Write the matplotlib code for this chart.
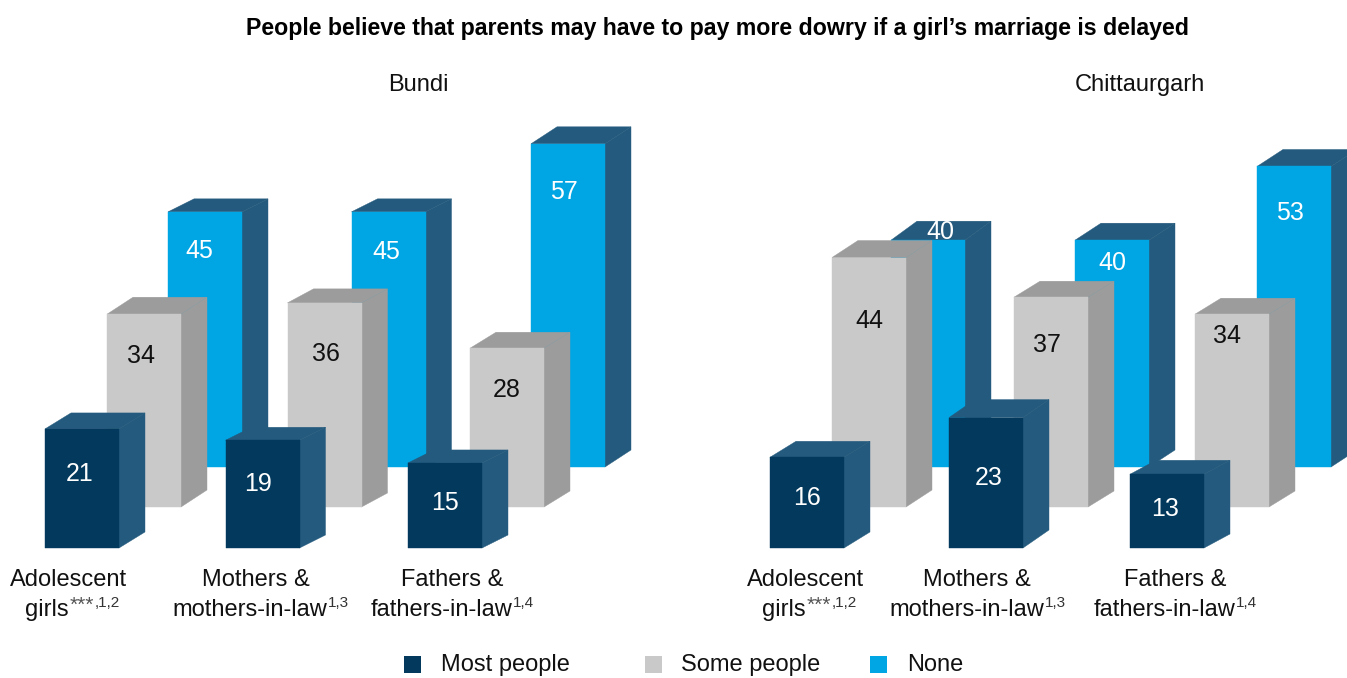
import matplotlib
matplotlib.use("Agg")
import matplotlib.pyplot as plt
from matplotlib.patches import Polygon, Rectangle

plt.rcParams["font.family"] = ["Liberation Sans", "DejaVu Sans"]

W, H = 1347, 678

# -----------------------------
# Data
# -----------------------------
groups = ["Adolescent girls", "Mothers & mothers-in-law", "Fathers & fathers-in-law"]
bundi_most = [21, 19, 15]
bundi_some = [34, 36, 28]
bundi_none = [45, 45, 57]
chitt_most = [16, 23, 13]
chitt_some = [44, 37, 34]
chitt_none = [40, 40, 53]

# -----------------------------
# Layout (pixels)
# -----------------------------
PX_PER_UNIT = 5.67
BAR_W = 74
DEPTH_X = 26
ROW_SHIFT = {"most": (0, 548), "some": (62, 507), "none": (123, 467)}

# x/y offset of each value label from the top-left corner of its bar slot
bundi_label_pos = {
    "most": [(35, 44), (32, 43), (37, 39)],
    "some": [(34, 41), (37, 50), (37, 41)],
    "none": [(31, 38), (37, 39), (33, 47)],
}
chitt_label_pos = {
    "most": [(38, 40), (39, 59), (34, 34)],
    "some": [(38, 62), (35, 47), (34, 21)],
    "none": [(48, -9), (39, 22), (36, 46)],
}

# the boxes were not placed quite evenly by hand: small shifts and depths per bar
bundi_nudge = {"most": [0, -1, 0], "some": [0, -1, 0], "none": [0, 2, 0]}
chitt_nudge = {"most": [1, -1, -1], "some": [1, 2, 2], "none": [-1, 2, 3]}
bundi_depth = {"most": [16, 13, 13], "some": [17, 14, 16], "none": [13, 13, 17]}
chitt_depth = {"most": [16, 18, 14], "some": [17, 16, 16], "none": [19, 17, 17]}

NAVY, NAVY_SIDE = "#03395C", "#245A7D"
GREY, GREY_SIDE = "#C9C9C9", "#9C9C9C"
BLUE = "#00A5E3"
STYLE = {
    "most": (NAVY, NAVY_SIDE, "white"),
    "some": (GREY, GREY_SIDE, "#111111"),
    "none": (BLUE, NAVY_SIDE, "white"),
}
TEXT = "#111111"

fig = plt.figure(figsize=(W / 100, H / 100), dpi=100, facecolor="white")


def put_text(x, y, s, **kw):
    kw.setdefault("color", TEXT)
    kw.setdefault("va", "center")
    return fig.text(x / W, 1 - y / H, s, **kw)


def draw_panel(px_left, px_right, x0, spacing, series, label_pos, nudge, depth):
    # one axes per district: x in group units, y in percent above the front row
    ax = fig.add_axes([px_left / W, 0, (px_right - px_left) / W, 1])
    ax.set_xlim((px_left - x0) / spacing, (px_right - x0) / spacing)
    ax.set_ylim((548 - H) / PX_PER_UNIT, 548 / PX_PER_UNIT)
    ax.axis("off")

    w = BAR_W / spacing
    dx = DEPTH_X / spacing
    layer = 2
    for key in ["none", "some", "most"]:
        shift_x, base_px = ROW_SHIFT[key]
        front, side, txt = STYLE[key]
        base = (548 - base_px) / PX_PER_UNIT
        for i, val in enumerate(series[key]):
            slot = i + shift_x / spacing
            x = slot + nudge[key][i] / spacing
            dy = depth[key][i] / PX_PER_UNIT
            top = base + val
            ax.add_patch(Polygon([(x + w, base), (x + w + dx, base + dy),
                                  (x + w + dx, top + dy), (x + w, top)],
                                 fc=side, ec=side, lw=0.3, zorder=layer))
            ax.add_patch(Polygon([(x, top), (x + dx, top + dy),
                                  (x + w + dx, top + dy), (x + w, top)],
                                 fc=side, ec=side, lw=0.3, zorder=layer))
            ax.add_patch(Rectangle((x, base), w, val, fc=front, ec=front, lw=0.3,
                                   zorder=layer))
            off_x, off_y = label_pos[key][i]
            ax.annotate(str(val), xy=(slot, top), xytext=(off_x, -off_y - 1),
                        textcoords="offset pixels", ha="center", va="center",
                        color=txt, fontsize=18, zorder=10)
        layer += 1


draw_panel(0, 673, 45, 181.5,
           {"most": bundi_most, "some": bundi_some, "none": bundi_none},
           bundi_label_pos, bundi_nudge, bundi_depth)
draw_panel(673, W, 769, 181,
           {"most": chitt_most, "some": chitt_some, "none": chitt_none},
           chitt_label_pos, chitt_nudge, chitt_depth)

# -----------------------------
# Titles
# -----------------------------
put_text(717, 29, "People believe that parents may have to pay more dowry if a girl\u2019s marriage is delayed",
         ha="center", fontsize=16.7, fontweight="bold", color="black")
put_text(418, 85, "Bundi", ha="center", fontsize=17)
put_text(1140, 85, "Chittaurgarh", ha="center", fontsize=17)


# -----------------------------
# Category labels with superscript notes
# -----------------------------
def sup_label(cx, y, s, stars, note):
    renderer = fig.canvas.get_renderer()
    main = put_text(0, y, s, ha="left", fontsize=17)
    w1 = main.get_window_extent(renderer).width
    star = None
    w_star = 0
    if stars:
        star = put_text(0, y - 5, stars, ha="left", fontsize=15, color="#555555")
        w_star = star.get_window_extent(renderer).width
    sup = put_text(0, y - 7, note, ha="left", fontsize=11, color="#333333")
    w2 = sup.get_window_extent(renderer).width
    left = cx - (w1 + w_star + w2) / 2
    main.set_x(left / W)
    if star is not None:
        star.set_x((left + w1 + 1) / W)
    sup.set_x((left + w1 + w_star + 1) / W)


for cx1, cx2, first, second, stars, note in [
    (69, 72, "Adolescent", "girls", "***", ",1,2"),
    (256, 260, "Mothers &", "mothers-in-law", "", "1,3"),
    (452, 452, "Fathers &", "fathers-in-law", "", "1,4"),
    (806, 809, "Adolescent", "girls", "***", ",1,2"),
    (977, 977, "Mothers &", "mothers-in-law", "", "1,3"),
    (1175, 1175, "Fathers &", "fathers-in-law", "", "1,4"),
]:
    put_text(cx1, 580, first, ha="center", fontsize=17)
    sup_label(cx2, 610, second, stars, note)

# -----------------------------
# Legend
# -----------------------------
for sq_x, txt_x, colour, name in [
    (404, 441, NAVY, "Most people"),
    (645, 681, GREY, "Some people"),
    (870, 907, BLUE, "None"),
]:
    fig.add_artist(Rectangle((sq_x / W, 1 - 673 / H), 17 / W, 17 / H, fc=colour, ec="none",
                             transform=fig.transFigure))
    put_text(txt_x, 665, name, ha="left", fontsize=17)

fig.savefig("out.png", dpi=100)
